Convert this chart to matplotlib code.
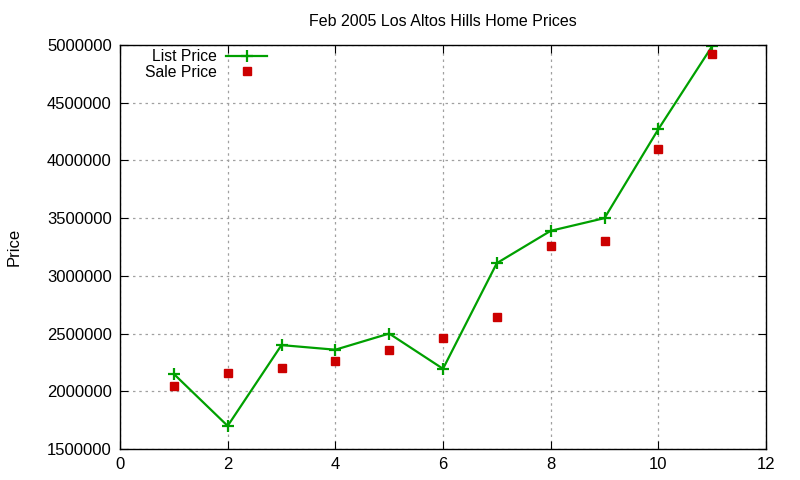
import matplotlib
matplotlib.use("Agg")
import matplotlib.pyplot as plt
from matplotlib.ticker import MultipleLocator

plt.rcParams['font.family'] = ['Liberation Sans', 'DejaVu Sans']

x = [1, 2, 3, 4, 5, 6, 7, 8, 9, 10, 11]
list_price = [2150000, 1700000, 2400000, 2360000, 2500000, 2195000,
              3110000, 3390000, 3500000, 4270000, 4990000]
sale_price = [2050000, 2160000, 2205000, 2260000, 2355000, 2460000,
              2640000, 3255000, 3305000, 4100000, 4925000]
title = "Feb 2005 Los Altos Hills Home Prices"

fig = plt.figure(figsize=(8, 4.8), dpi=100)
ax = fig.add_axes([0.15, 0.0646, 0.8075, 0.8417])

ax.plot(x, list_price, color='#00a000', lw=1.6, marker='+', ms=9, mew=1.6,
        label='List Price')
ax.plot(x, sale_price, ls='none', color='#cc0000', marker='s', ms=6,
        label='Sale Price')

ax.set_xlim(0, 12)
ax.set_ylim(1500000, 5000000)
ax.xaxis.set_major_locator(MultipleLocator(2))
ax.yaxis.set_major_locator(MultipleLocator(500000))
ax.ticklabel_format(style='plain', axis='y', useOffset=False)
ax.grid(True, ls=(0, (2, 3)), color='#a0a0a0', lw=0.9)
ax.tick_params(direction='in', top=True, right=True, length=6, labelsize=12,
               pad=6)
for s in ax.spines.values():
    s.set_linewidth(1.0)

ax.set_title(title, fontsize=11.5, pad=14)
ax.set_ylabel('Price', fontsize=12, labelpad=18)

leg = ax.legend(loc='upper left', bbox_to_anchor=(0.017, 1.025), frameon=False,
                markerfirst=False, fontsize=11.3, handlelength=2.6,
                handletextpad=0.6, labelspacing=0.05)
for t in leg.get_texts():
    t.set_ha('right')

fig.savefig('out.png', dpi=100)
